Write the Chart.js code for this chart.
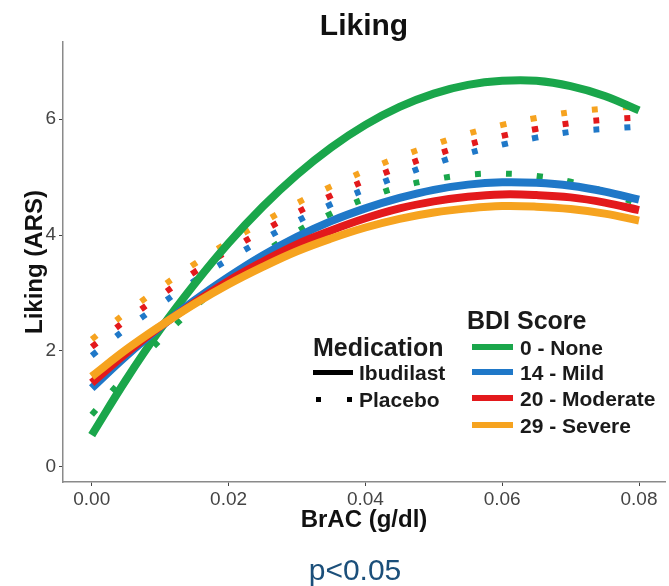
<!DOCTYPE html>
<html>
<head>
<meta charset="utf-8">
<script src="https://cdn.jsdelivr.net/npm/chart.js@4.4.1/dist/chart.umd.min.js"></script>
<style>
  html, body { margin: 0; padding: 0; background: #fff; }
  #wrap { position: relative; width: 669px; height: 586px; overflow: hidden;
          font-family: 'Liberation Sans', Arial, sans-serif; }
  #chart { position: absolute; left: 0; top: 0; }
  .lg { position: absolute; color: #1a1a1a; font-weight: bold; white-space: nowrap; line-height: 1; }
  .key { position: absolute; }
  #pval { position: absolute; left: 255px; width: 200px; top: 555px; text-align: center;
          font-size: 30px; line-height: 1; color: #1b4f7a; }
</style>
</head>
<body>
<div id="wrap">
  <canvas id="chart" width="669" height="586"></canvas>
  <div id="legend"></div>
  <div id="pval">p&lt;0.05</div>
</div>
<script>
// x positions of the fitted curves (BrAC, g/dl)
const BRAC = [0, 0.005, 0.01, 0.015, 0.02, 0.025, 0.03, 0.035, 0.04,
              0.045, 0.05, 0.055, 0.06, 0.065, 0.07, 0.075, 0.08];

// Ibudilast (solid)
const IBU_NONE = [0.55, 1.50, 2.37, 3.15, 3.86, 4.49, 5.04, 5.51, 5.90, 6.21, 6.44, 6.59, 6.66, 6.66, 6.57, 6.40, 6.15];
const IBU_MILD = [1.36, 1.91, 2.41, 2.87, 3.28, 3.65, 3.97, 4.24, 4.46, 4.64, 4.78, 4.87, 4.91, 4.90, 4.85, 4.75, 4.61];
const IBU_MOD  = [1.45, 1.96, 2.42, 2.83, 3.21, 3.54, 3.84, 4.08, 4.29, 4.46, 4.58, 4.66, 4.70, 4.69, 4.65, 4.56, 4.43];
const IBU_SEV  = [1.56, 2.02, 2.43, 2.81, 3.15, 3.45, 3.72, 3.94, 4.13, 4.28, 4.39, 4.46, 4.50, 4.49, 4.45, 4.37, 4.25];

// Placebo (dotted)
const PLA_NONE = [0.90, 1.58, 2.19, 2.75, 3.24, 3.68, 4.06, 4.37, 4.63, 4.83, 4.96, 5.04, 5.06, 5.02, 4.92, 4.75, 4.53];
const PLA_MILD = [1.92, 2.38, 2.80, 3.21, 3.58, 3.92, 4.24, 4.53, 4.79, 5.02, 5.23, 5.41, 5.56, 5.68, 5.78, 5.83, 5.87];
const PLA_MOD  = [2.07, 2.53, 2.95, 3.36, 3.73, 4.07, 4.39, 4.68, 4.94, 5.17, 5.38, 5.56, 5.71, 5.83, 5.93, 5.99, 6.03];
const PLA_SEV  = [2.20, 2.66, 3.09, 3.50, 3.88, 4.22, 4.55, 4.84, 5.11, 5.35, 5.56, 5.75, 5.90, 6.02, 6.12, 6.18, 6.22];

const BDI_LABELS = ['0 - None', '14 - Mild', '20 - Moderate', '29 - Severe'];
const BDI_COLORS = ['#1aa64b', '#1f78c8', '#e3191c', '#f6a31f'];
const MED_LABELS = ['Ibudilast', 'Placebo'];

const X_TICKS = [0, 0.02, 0.04, 0.06, 0.08];
const Y_TICKS = [0, 2, 4, 6];

Chart.defaults.font.family = "'Liberation Sans', Arial, sans-serif";

const toPts = ys => BRAC.map((x, i) => ({ x, y: ys[i] }));

// placebo first so the solid fits sit on top; orange drawn last
const layers = [];
[PLA_NONE, PLA_MILD, PLA_MOD, PLA_SEV].forEach((ys, i) => layers.push({
  label: MED_LABELS[1] + ' ' + BDI_LABELS[i],
  data: toPts(ys),
  borderColor: BDI_COLORS[i],
  borderWidth: 6,
  borderDash: [6, 25],
  borderCapStyle: 'butt',
  fill: false,
}));
[IBU_NONE, IBU_MILD, IBU_MOD, IBU_SEV].forEach((ys, i) => layers.push({
  label: MED_LABELS[0] + ' ' + BDI_LABELS[i],
  data: toPts(ys),
  borderColor: BDI_COLORS[i],
  borderWidth: 8,
  fill: false,
}));
layers.forEach((d, i) => { d.order = layers.length - i; });

const AXIS = '#8a8a8a';
const TICK = '#444';

new Chart(document.getElementById('chart'), {
  type: 'line',
  data: { datasets: layers },
  options: {
    responsive: false,
    animation: false,
    devicePixelRatio: 1,
    layout: { padding: { left: 0, right: 4, top: 0, bottom: 0 } },
    elements: { point: { radius: 0 }, line: { tension: 0.4 } },
    plugins: {
      legend: { display: false },
      tooltip: { enabled: false },
      title: {
        display: true, text: 'Liking', fullSize: false, color: '#111',
        font: { size: 30, weight: 'bold', lineHeight: 1 },
        padding: { top: 12, bottom: 0 },
      },
    },
    scales: {
      x: {
        type: 'linear', min: -0.0042, max: 0.0838,
        afterBuildTicks: s => { s.ticks = X_TICKS.map(v => ({ value: v })); },
        afterFit: s => { s.height = 104; },
        grid: { drawOnChartArea: false, drawTicks: true, tickLength: 4, color: TICK },
        border: { display: true, color: AXIS, width: 1.5 },
        ticks: { color: TICK, font: { size: 19 }, padding: 2, maxRotation: 0, autoSkip: false,
                 callback: v => v.toFixed(2) },
        title: { display: true, text: 'BrAC (g/dl)', color: '#111',
                 font: { size: 24, weight: 'bold', lineHeight: 1.2 }, padding: { top: 0, bottom: 51 } },
      },
      y: {
        type: 'linear', min: -0.26, max: 7.33,
        afterBuildTicks: s => { s.ticks = Y_TICKS.map(v => ({ value: v })); },
        afterFit: s => { s.width = 63; },
        grid: { drawOnChartArea: false, drawTicks: true, tickLength: 4, color: TICK },
        border: { display: true, color: AXIS, width: 1.5 },
        ticks: { color: TICK, font: { size: 19 }, padding: 3 },
        title: { display: true, text: 'Liking (ARS)', color: '#111',
                 font: { size: 24, weight: 'bold', lineHeight: 1.2 }, padding: { top: 21, bottom: 0 } },
      },
    },
  },
});

// legend (inside the panel, bottom right)
const lg = document.getElementById('legend');
function addText(txt, left, cy, size) {
  const d = document.createElement('div');
  d.className = 'lg';
  d.textContent = txt;
  d.style.left = left + 'px';
  d.style.top = (cy - size / 2) + 'px';
  d.style.fontSize = size + 'px';
  lg.appendChild(d);
}
function addBox(left, top, w, h, color) {
  const d = document.createElement('div');
  d.className = 'key';
  Object.assign(d.style, { left: left + 'px', top: top + 'px', width: w + 'px', height: h + 'px', background: color });
  lg.appendChild(d);
}

addText('BDI Score', 467, 320, 25);
const BDI_ROWS = [347, 372, 398, 425];
BDI_LABELS.forEach((t, i) => {
  addBox(472, BDI_ROWS[i] - 3, 41, 6, BDI_COLORS[i]);
  addText(t, 520, BDI_ROWS[i], 21);
});

addText('Medication', 313, 347, 25);
addBox(313, 370, 40, 5, '#000');
addText(MED_LABELS[0], 359, 372, 21);
addBox(316, 397, 5, 5, '#000');
addBox(347, 397, 5, 5, '#000');
addText(MED_LABELS[1], 359, 399, 21);
</script>
</body>
</html>
